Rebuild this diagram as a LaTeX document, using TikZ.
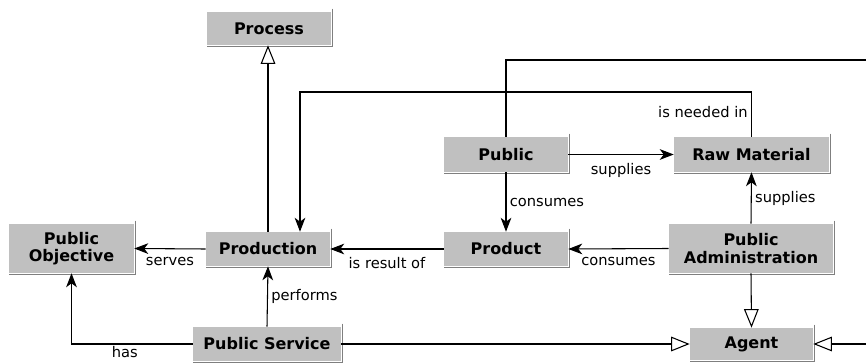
\documentclass[tikz,border=0pt]{standalone}
\usepackage{fontspec}
\setmainfont{DejaVu Sans}
\usetikzlibrary{arrows.meta,calc}
\definecolor{boxfill}{HTML}{C0C0C0}
\definecolor{boxshade}{HTML}{7F7F7F}
\tikzset{
  box/.style={fill=boxfill, inner sep=0pt, align=center, font=\fontsize{12}{13}\selectfont\bfseries},
  lbl/.style={font=\fontsize{11}{12}\selectfont, inner sep=2.5pt},
  lblb/.style={lbl, below, yshift=-3.5pt},
  conn/.style={line width=0.8pt, black},
  arr/.style={conn, -{Stealth[length=10.5pt, width=8pt, inset=3pt]}},
  gen/.style={conn, -{Triangle[open, length=14pt, width=11pt, fill=white]}},
  shade/.style={boxshade, line width=0.9pt}
}
\begin{document}
\begin{tikzpicture}[x=0.75pt, y=-0.75pt]
\useasboundingbox (0,0) rectangle (866,363);
\clip (0,0) rectangle (866,363);
\fill[white] (0,0) rectangle (866,363);
% nodes
\node[box, minimum width=93pt, minimum height=24.75pt] (process) at (269,28.5) {Process};
\node[box, minimum width=93pt, minimum height=26.25pt] (public) at (506,154.5) {Public};
\node[box, minimum width=116.25pt, minimum height=26.25pt] (raw) at (751.5,154.5) {Raw Material};
\node[box, minimum width=93.75pt, minimum height=36.75pt] (objective) at (71.5,248.5) {Public\\Objective};
\node[box, minimum width=93pt, minimum height=25.5pt] (production) at (268,249) {Production};
\node[box, minimum width=93pt, minimum height=25.5pt] (product) at (506,249) {Product};
\node[box, minimum width=123pt, minimum height=36.75pt] (admin) at (751,248.5) {Public\\Administration};
\node[box, minimum width=111pt, minimum height=25.5pt] (service) at (267,344) {Public Service};
\node[box, minimum width=92.25pt, minimum height=24pt] (agent) at (751.5,344) {Agent};
% shadows
\foreach \n in {process,public,raw,objective,production,product,admin,service,agent}{
  \draw[shade] ([xshift=0.75pt,yshift=2.25pt]\n.north east) -- ([xshift=0.75pt,yshift=-0.75pt]\n.south east) -- ([yshift=-0.75pt]\n.south west);
}
% connectors
\draw[gen] (production.north) -- (production.north |- process.south);
\draw[arr] (raw.north) -- node[lbl, left, pos=0.55] {is needed in} (raw.north |- 0,92) -| ($(production.north)+(32,0)$);
\draw[gen] (public.north) |- (885,60) |- (agent.east);
\draw[arr] (public.east) -- node[lblb] {supplies} (raw.west);
\draw[arr] (public.south) -- node[lbl, right] {consumes} (product.north);
\draw[arr] (admin.north) -- node[lbl, right] {supplies} (raw.south);
\draw[arr] (admin.west) -- node[lblb] {consumes} (product.east);
\draw[gen] (admin.south) -- (agent.north);
\draw[arr] (product.west) -- node[lblb] {is result of} (production.east);
\draw[arr] (production.west) -- node[lblb] {serves} (objective.east);
\draw[arr] (service.north) -- node[lbl, right] {performs} (production.south);
\draw[arr] (service.west) -| node[lbl, below, inner sep=1pt, pos=0.28] {has} (objective.south);
\draw[gen] (service.east) -- (agent.west);
\end{tikzpicture}
\end{document}
